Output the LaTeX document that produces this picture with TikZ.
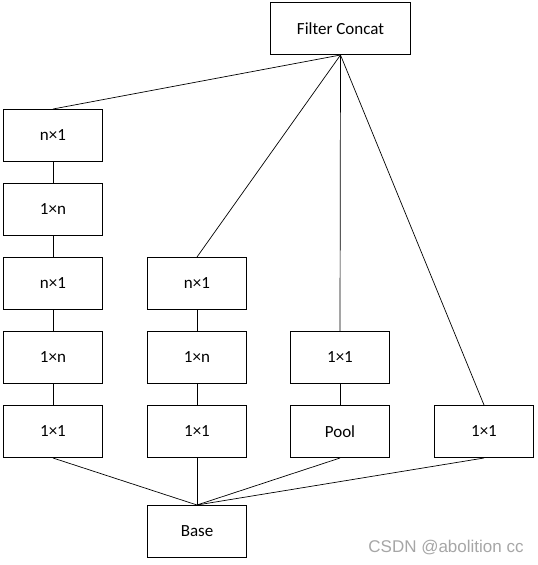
\documentclass[tikz,border=0pt]{standalone}
\usepackage{fontspec}
\setmainfont{Carlito}
\newfontfamily\markfont{Liberation Sans}
\usepackage{tikz}
\usetikzlibrary{positioning}

\begin{document}
\begin{tikzpicture}[x=1pt,y=-1pt,
  box/.style={rectangle,draw,line width=1pt,minimum width=99pt,minimum height=52pt,
    inner sep=0pt,font=\fontsize{17}{20}\selectfont},
  link/.style={line width=0.7pt},
  node distance=21pt]
\useasboundingbox (0,0) rectangle (538,565);

% top and bottom
\node[box,minimum width=140pt] (concat) at (340.5,28.5) {Filter Concat};
\node[box] (base) at (197,531.5) {Base};

% first branch
\node[box] (a1) at (53,135.5) {n×1};
\node[box,below=of a1] (a2) {1×n};
\node[box,below=of a2] (a3) {n×1};
\node[box,below=of a3] (a4) {1×n};
\node[box,below=of a4] (a5) {1×1};

% second branch
\node[box] (b1) at (197,283.5) {n×1};
\node[box,below=of b1] (b2) {1×n};
\node[box,below=of b2] (b3) {1×1};

% pool branch
\node[box] (c1) at (340,357.5) {1×1};
\node[box,below=of c1] (c2) {Pool};

% single branch
\node[box] (d1) at (484,431.5) {1×1};

\draw[link] (a1) -- (a2) (a2) -- (a3) (a3) -- (a4) (a4) -- (a5);
\draw[link] (b1) -- (b2) (b2) -- (b3);
\draw[link] (c1) -- (c2);

\foreach \top in {a1,b1,c1,d1}
  \draw[link] (concat.south) -- (\top.north);
\foreach \bot in {a5,b3,c2,d1}
  \draw[link] (\bot.south) -- (base.north);

\node[text=black!35,font=\markfont\fontsize{17}{20}\selectfont] (mark) at (446,548) {CSDN @abolition cc};
\end{tikzpicture}
\end{document}
